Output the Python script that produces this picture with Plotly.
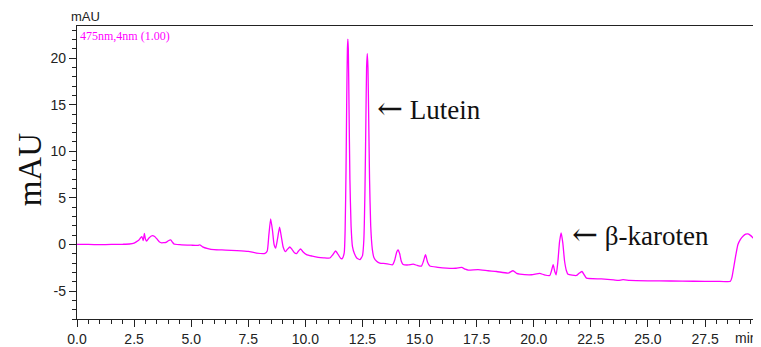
import plotly.graph_objects as go

# Chromatogram values (retention time in min, signal in mAU)
time_min = [
    0.0, 0.5, 1.0, 1.5, 2.0, 2.3, 2.5, 2.61, 2.7, 2.78, 2.84, 2.90, 2.95, 3.0, 3.05,
    3.15, 3.30, 3.40, 3.49, 3.60, 3.71, 3.80, 3.90, 4.0, 4.10, 4.18, 4.25, 4.5, 5.0,
    5.3, 5.38, 5.5, 5.73, 6.0, 6.5, 7.0, 7.5, 7.86, 8.23, 8.33, 8.40, 8.48, 8.56,
    8.63, 8.70, 8.78, 8.87, 8.95, 9.03, 9.13, 9.22, 9.32, 9.42, 9.52, 9.61, 9.70,
    9.79, 9.88, 10.05, 10.3, 10.56, 10.8, 11.07, 11.2, 11.32, 11.44, 11.55, 11.61,
    11.70, 11.74, 11.78, 11.81, 11.84, 11.86, 11.88, 11.91, 11.95, 12.0, 12.06,
    12.15, 12.25, 12.39, 12.50, 12.56, 12.61, 12.65, 12.68, 12.71, 12.74, 12.77,
    12.81, 12.86, 12.93, 13.0, 13.12, 13.26, 13.5, 13.82, 13.92, 14.0, 14.06, 14.13,
    14.2, 14.28, 14.5, 14.72, 14.9, 15.08, 15.17, 15.26, 15.35, 15.45, 15.8, 16.18,
    16.6, 16.84, 17.0, 17.13, 17.56, 18.0, 18.37, 18.88, 19.09, 19.25, 19.39, 19.9,
    20.26, 20.45, 20.7, 20.78, 20.85, 20.92, 20.98, 21.05, 21.13, 21.2, 21.27,
    21.35, 21.43, 21.5, 21.87, 21.98, 22.11, 22.22, 22.31, 22.96, 23.5, 23.7, 23.91,
    24.2, 25.0, 26.0, 27.0, 28.0, 28.61, 28.68, 28.75, 28.85, 28.94, 29.05, 29.16,
    29.28, 29.38, 29.5, 29.67, 29.8, 29.95,
]
signal_mau = [
    0.0, 0.0, -0.02, 0.0, 0.02, 0.05, 0.15, 0.3, 0.45, 0.7, 0.85, 0.42, 1.18, 0.55,
    0.35, 0.7, 0.95, 0.85, 0.62, 0.3, 0.18, 0.2, 0.22, 0.4, 0.49, 0.25, 0.05, -0.02,
    -0.08, -0.1, -0.05, -0.25, -0.44, -0.56, -0.6, -0.66, -0.75, -0.92, -0.95, -0.7,
    1.0, 2.75, 1.5, 0.0, -0.38, 0.6, 1.86, 0.8, -0.3, -0.77, -0.5, -0.27, -0.55,
    -0.9, -0.99, -0.7, -0.48, -0.75, -1.09, -1.25, -1.38, -1.43, -1.45, -1.1, -0.7,
    -1.1, -1.5, -1.52, -0.9, 1.5, 8.0, 15.5, 21.0, 22.05, 21.0, 15.0, 7.0, 2.0,
    -0.2, -1.0, -1.45, -1.63, -1.2, 0.5, 6.0, 13.5, 19.0, 20.5, 19.0, 14.0, 7.0,
    2.0, -0.5, -1.4, -1.81, -2.0, -2.05, -2.17, -1.6, -0.8, -0.59, -1.0, -1.8,
    -2.15, -2.2, -2.12, -2.25, -2.32, -1.8, -1.09, -1.9, -2.32, -2.45, -2.54, -2.55,
    -2.46, -2.65, -2.75, -2.7, -2.82, -2.9, -3.07, -2.82, -3.1, -3.18, -3.25, -3.11,
    -3.25, -3.33, -2.8, -2.17, -2.9, -3.25, -2.0, 0.3, 1.24, 0.2, -1.8, -2.82, -3.2,
    -3.33, -3.1, -2.9, -3.3, -3.62, -3.69, -3.8, -3.85, -3.78, -3.85, -3.9, -3.92,
    -3.95, -3.96, -3.95, -3.5, -2.54, -1.1, 0.0, 0.55, 0.89, 1.1, 1.13, 0.95, 0.53,
    0.2, -0.1,
]

y_tick_values = [-5, 0, 5, 10, 15, 20]
y_tick_labels = ["-5", "0", "5", "10", "15", "20"]
x_tick_values = [0.0, 2.5, 5.0, 7.5, 10.0, 12.5, 15.0, 17.5, 20.0, 22.5, 25.0, 27.5]

peak_names = ["Lutein", "β-karoten"]
peak_times = [12.71, 21.2]
peak_heights = [20.5, 1.24]

MAG = "#ff00ff"
AXC = "#222222"
TICKFONT = dict(family="Liberation Sans Narrow, Arial Narrow, Liberation Sans, Arial",
                size=14, color="#222222")
SERIF = "Liberation Serif, Times New Roman, serif"

fig = go.Figure()
fig.add_trace(go.Scatter(
    x=time_min, y=signal_mau, mode="lines",
    line=dict(color=MAG, width=1.3, shape="spline", smoothing=0.5),
    hoverinfo="x+y", showlegend=False,
))

# page body has an 8px margin, so the figure is 8px smaller and margins shifted
fig.update_layout(
    width=753, height=339,
    margin=dict(l=69, r=0, t=18, b=22),
    paper_bgcolor="white", plot_bgcolor="white",
    xaxis=dict(
        range=[0, 29.95], showgrid=False, zeroline=False,
        showline=True, linecolor=AXC, linewidth=1.3, mirror=True,
        ticks="outside", ticklen=7, tickwidth=1, tickcolor=AXC,
        tickvals=x_tick_values, tickformat=".1f", tickfont=TICKFONT,
        minor=dict(dtick=0.5, ticks="outside", ticklen=4, tickwidth=1, tickcolor=AXC),
    ),
    yaxis=dict(
        range=[-8, 23.45], showgrid=False, zeroline=False,
        showline=True, linecolor=AXC, linewidth=1.3,
        ticks="outside", ticklen=7, tickwidth=1, tickcolor=AXC,
        tickvals=y_tick_values, ticktext=y_tick_labels, tickfont=TICKFONT,
        minor=dict(dtick=1, ticks="outside", ticklen=4, tickwidth=1, tickcolor=AXC),
    ),
)

# Peak labels
offsets = [(0.33, -5.8), (0.38, -0.14)]
for name, t, h, (dx, dy) in zip(peak_names, peak_times, peak_heights, offsets):
    fig.add_annotation(
        x=t + dx, y=h + dy, xref="x", yref="y",
        text='<span style="font-family:DejaVu Serif;font-size:31px">\u2190</span> ' + name,
        showarrow=False, xanchor="left", yanchor="middle",
        font=dict(family=SERIF, size=27, color="#111111"),
    )

# Detector label
fig.add_annotation(
    x=0.002, y=1.0, xref="paper", yref="paper", text="475nm,4nm (1.00)",
    showarrow=False, xanchor="left", yanchor="top", yshift=-1,
    font=dict(family=SERIF, size=12, color=MAG),
)
# Small unit label above axis
fig.add_annotation(
    x=0, y=1.0, xref="paper", yref="paper", text="mAU",
    showarrow=False, xanchor="left", yanchor="bottom", xshift=-8, yshift=0,
    font=dict(family="Liberation Sans Narrow, Arial Narrow, Liberation Sans", size=13,
              color="#222222"),
)
# Large y-axis title
fig.add_annotation(
    x=-0.069, y=0.51, xref="paper", yref="paper", text="mAU", textangle=-90,
    showarrow=False, xanchor="center", yanchor="middle",
    font=dict(family=SERIF, size=33, color="#111111"),
)
# x-axis unit
fig.add_annotation(
    x=1.0, y=0, xref="paper", yref="paper", text="min",
    showarrow=False, xanchor="right", yanchor="top", yshift=-9, xshift=-1,
    font=TICKFONT,
)

fig.write_html("out.html")
